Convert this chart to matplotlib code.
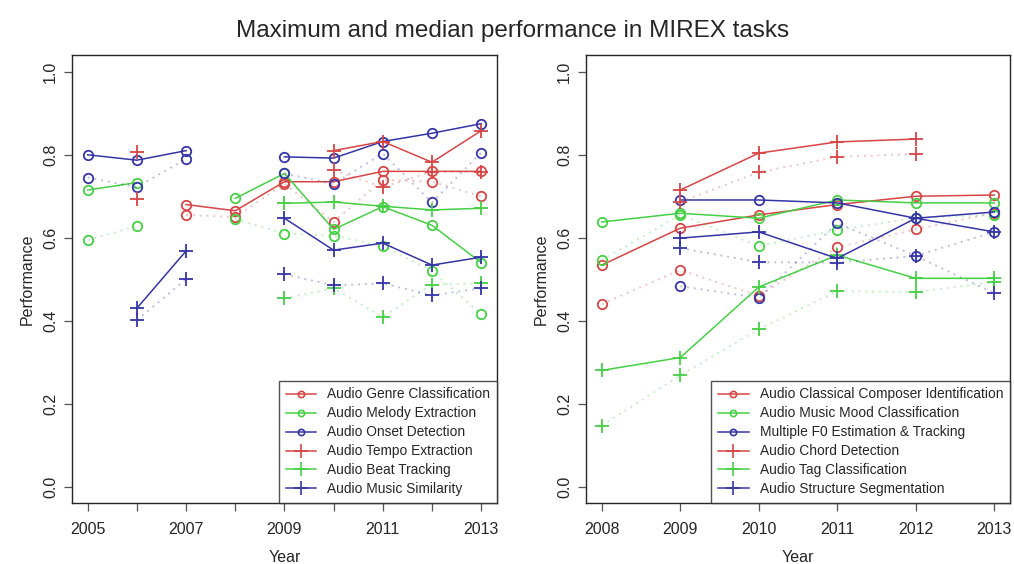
import numpy as np
import matplotlib
matplotlib.use("Agg")
import matplotlib.pyplot as plt
from matplotlib.lines import Line2D

plt.rcParams['font.family'] = ['Liberation Sans', 'DejaVu Sans']

nan = np.nan

# left panel: tasks run since 2005
years_a = [2005, 2006, 2007, 2008, 2009, 2010, 2011, 2012, 2013]
genre_max = [nan, nan, 0.68, 0.665, 0.735, 0.735, 0.76, 0.76, 0.76]
genre_med = [nan, nan, 0.655, 0.65, 0.73, 0.638, 0.74, 0.735, 0.70]
melody_max = [0.715, 0.733, nan, 0.695, 0.755, 0.62, 0.675, 0.63, 0.54]
melody_med = [0.594, 0.628, nan, 0.645, 0.61, 0.605, 0.58, 0.52, 0.415]
onset_max = [0.80, 0.787, 0.81, nan, 0.795, 0.792, 0.832, 0.852, 0.875]
onset_med = [0.745, 0.722, 0.79, nan, 0.755, 0.73, 0.803, 0.685, 0.805]
tempo_max = [nan, 0.807, nan, nan, nan, 0.81, 0.832, 0.782, 0.858]
tempo_med = [nan, 0.693, nan, nan, nan, 0.763, 0.722, 0.759, 0.759]
beat_max = [nan, nan, nan, nan, 0.683, 0.686, 0.676, 0.667, 0.671]
beat_med = [nan, nan, nan, nan, 0.454, 0.478, 0.409, 0.487, 0.49]
sim_max = [nan, 0.43, 0.568, nan, 0.647, 0.57, 0.587, 0.534, 0.553]
sim_med = [nan, 0.401, 0.50, nan, 0.512, 0.485, 0.49, 0.461, 0.478]
tasks_a = ["Audio Genre Classification", "Audio Melody Extraction",
           "Audio Onset Detection", "Audio Tempo Extraction",
           "Audio Beat Tracking", "Audio Music Similarity"]

# right panel: tasks run since 2008
years_b = [2008, 2009, 2010, 2011, 2012, 2013]
composer_max = [0.534, 0.623, 0.655, 0.68, 0.70, 0.703]
composer_med = [0.44, 0.522, 0.46, 0.577, 0.62, 0.66]
mood_max = [0.638, 0.659, 0.647, 0.691, 0.684, 0.684]
mood_med = [0.546, 0.655, 0.58, 0.618, 0.648, 0.655]
f0_max = [nan, 0.691, 0.691, 0.684, 0.647, 0.662]
f0_med = [nan, 0.483, 0.455, 0.635, 0.556, 0.614]
chord_max = [nan, 0.715, 0.804, 0.831, 0.838, nan]
chord_med = [nan, 0.686, 0.758, 0.795, 0.802, nan]
tag_max = [0.28, 0.311, 0.481, 0.558, 0.502, 0.502]
tag_med = [0.147, 0.268, 0.379, 0.471, 0.469, 0.493]
seg_max = [nan, 0.599, 0.614, 0.55, 0.647, 0.614]
seg_med = [nan, 0.575, 0.541, 0.54, 0.556, 0.466]
tasks_b = ["Audio Classical Composer Identification",
           "Audio Music Mood Classification",
           "Multiple F0 Estimation & Tracking", "Audio Chord Detection",
           "Audio Tag Classification", "Audio Structure Segmentation"]

colors = ["#d84545", "#45d045", "#3535a8"] * 2
markers = ["o", "o", "o", "+", "+", "+"]
ink = "#262626"


def panel(ax, years, series, labels, xticks, xticklabels):
    for (mx, md), c, m, lab in zip(series, colors, markers, labels):
        ms = 6.8 if m == "o" else 10
        # median: pale dotted line, solid-coloured markers
        ax.plot(years, md, color=c, alpha=0.32, ls=(0, (1, 2.5)), lw=1.4)
        ax.plot(years, md, ls="none", marker=m, ms=ms, mfc="none",
                mec=c, mew=1.3)
        ax.plot(years, mx, color=c, lw=1.1, marker=m, ms=ms, mfc="none",
                mec=c, mew=1.3, label=lab)
    pad = 0.04 * (years[-1] - years[0])
    ax.set_xlim(years[0] - pad, years[-1] + pad)
    ax.set_ylim(-0.04, 1.04)
    ax.set_xticks(years)
    ax.set_xticklabels(["" for y in years])
    for y, t in zip(xticks, xticklabels):
        ax.text(y, -0.085, t, ha="center", va="top", fontsize=11.5,
                color=ink, transform=ax.transData)
    ax.set_yticks([0, 0.2, 0.4, 0.6, 0.8, 1.0])
    ax.set_yticklabels(["0.0", "0.2", "0.4", "0.6", "0.8", "1.0"],
                       rotation=90, va="center", fontsize=11.5, color=ink)
    ax.tick_params(direction="out", length=6, width=0.9, color="#555555",
                   pad=4)
    for s in ax.spines.values():
        s.set_color(ink)
        s.set_linewidth(1.0)
    ax.set_xlabel("Year", fontsize=11.5, color=ink, labelpad=24)
    ax.set_ylabel("Performance", fontsize=11.5, color=ink, labelpad=6)
    handles = [Line2D([], [], color=c, lw=1.1, marker=m,
                      ms=(4.5 if m == "o" else 10), mfc="none", mew=1.2)
               for c, m in zip(colors, markers)]
    leg = ax.legend(handles, labels, loc="lower right", borderaxespad=0,
                    fontsize=9.9, frameon=True, fancybox=False,
                    handlelength=2.2, handletextpad=0.8, labelspacing=0.36,
                    borderpad=0.5)
    leg.get_frame().set_edgecolor(ink)
    leg.get_frame().set_linewidth(1.0)
    for t in leg.get_texts():
        t.set_color(ink)


fig = plt.figure(figsize=(10.14, 5.64), dpi=100)
ax1 = fig.add_axes([0.071, 0.108, 0.419, 0.794])
ax2 = fig.add_axes([0.578, 0.108, 0.418, 0.794])

panel(ax1, years_a,
      [(genre_max, genre_med), (melody_max, melody_med),
       (onset_max, onset_med), (tempo_max, tempo_med),
       (beat_max, beat_med), (sim_max, sim_med)],
      tasks_a, [2005, 2007, 2009, 2011, 2013],
      ["2005", "2007", "2009", "2011", "2013"])
panel(ax2, years_b,
      [(composer_max, composer_med), (mood_max, mood_med),
       (f0_max, f0_med), (chord_max, chord_med),
       (tag_max, tag_med), (seg_max, seg_med)],
      tasks_b, years_b, [str(y) for y in years_b])

fig.text(0.505, 0.945, "Maximum and median performance in MIREX tasks",
         ha="center", va="center", fontsize=17.5, color=ink)

fig.savefig("out.png", dpi=100)
